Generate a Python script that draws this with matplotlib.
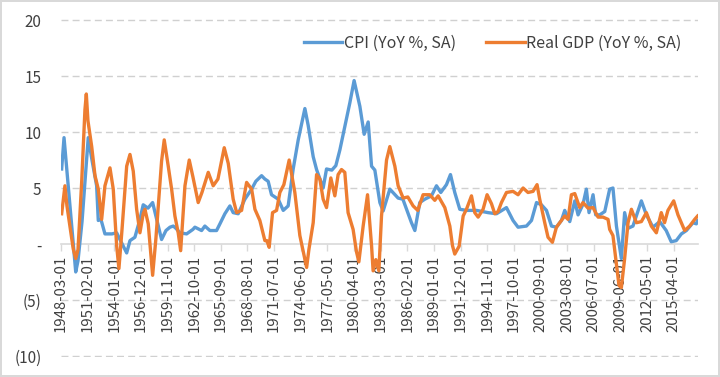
import matplotlib
matplotlib.use("Agg")
import matplotlib.pyplot as plt
from matplotlib.ticker import FuncFormatter

plt.rcParams['font.family'] = ['Noto Sans CJK KR', 'DejaVu Sans']

# CPI YoY % (decimal year, value)
cpi_t = [1948.24, 1948.5, 1949.78, 1950.03, 1950.47, 1951.15, 1951.56, 1952.07, 1952.25,
         1952.54, 1952.98, 1953.75, 1954.26, 1954.62, 1955.36, 1955.72, 1956.26, 1956.81,
         1957.17, 1957.69, 1958.2, 1958.56, 1959.18, 1959.66, 1960.1, 1960.46, 1960.75,
         1961.19, 1961.92, 1962.61, 1962.83, 1963.56, 1963.92, 1964.47, 1965.2, 1965.57,
         1966.11, 1966.66, 1967.02, 1967.57, 1968.3, 1969.04, 1969.5, 1970.13, 1970.49,
         1970.85, 1971.22, 1971.95, 1972.5, 1973.04, 1973.59, 1974.14, 1974.87, 1975.23,
         1975.78, 1976.15, 1976.87, 1977.24, 1977.82, 1978.26, 1978.7, 1979.25, 1979.79,
         1980.26, 1980.89, 1981.36, 1981.8, 1982.17, 1982.53, 1983.08, 1983.44, 1984.17,
         1985.08, 1985.6, 1986.0, 1986.54, 1986.91, 1987.45, 1988.0, 1988.73, 1989.28,
         1989.75, 1990.37, 1990.81, 1991.28, 1991.83, 1992.56, 1993.66, 1994.93, 1995.85,
         1996.94, 1997.66, 1998.21, 1999.13, 1999.68, 2000.23, 2000.77, 2001.32, 2001.87,
         2002.41, 2002.96, 2003.32, 2003.87, 2004.42, 2004.78, 2005.32, 2005.69, 2005.98,
         2006.42, 2006.71, 2007.15, 2007.7, 2008.24, 2008.6, 2008.98, 2009.52, 2009.88,
         2010.25, 2010.79, 2011.71, 2012.26, 2012.98, 2013.72, 2014.43, 2014.98, 2015.53,
         2016.09, 2016.64, 2017.36, 2017.73, 2017.87]
cpi_v = [6.7, 9.5, -2.5, -1.5, 2.0, 9.5, 7.5, 5.2, 2.1,
         2.2, 0.9, 0.9, 1.0, 0.4, -0.8, 0.3, 0.6, 2.2,
         3.5, 3.2, 3.7, 2.5, 0.4, 1.2, 1.5, 1.6, 1.4,
         1.0, 0.9, 1.3, 1.5, 1.2, 1.6, 1.2, 1.2, 1.8,
         2.7, 3.4, 2.8, 2.7, 4.0, 4.9, 5.6, 6.1, 5.8,
         5.6, 4.4, 4.0, 3.0, 3.4, 6.7, 9.3, 12.1, 10.6,
         7.8, 6.65, 5.0, 6.7, 6.6, 7.0, 8.4, 10.5, 12.6,
         14.6, 12.3, 9.8, 10.9, 6.95, 6.6, 3.7, 2.95, 4.9,
         4.1, 4.0, 3.1, 1.9, 1.2, 3.7, 4.0, 4.3, 5.2,
         4.6, 5.3, 6.2, 4.6, 3.1, 3.0, 3.0, 2.8, 2.7,
         3.25, 2.1, 1.5, 1.6, 2.1, 3.7, 3.5, 3.0, 1.6,
         1.5, 2.1, 3.0, 2.0, 3.85, 2.6, 3.55, 4.9, 2.8,
         4.4, 2.6, 2.6, 2.9, 4.9, 5.0, 1.6, -1.3, 2.8,
         1.4, 1.6, 3.85, 2.6, 1.5, 2.0, 1.2, 0.2, 0.3,
         0.9, 1.2, 1.9, 1.8, 2.1]

# Real GDP YoY % (decimal year, value)
gdp_t = [1948.24, 1948.6, 1948.82, 1949.51, 1949.78, 1950.03, 1950.43, 1950.79, 1950.94,
         1951.12, 1951.53, 1951.89, 1952.25, 1952.62, 1952.98, 1953.53, 1953.89, 1954.26,
         1954.51, 1954.84, 1955.36, 1955.72, 1956.08, 1956.45, 1956.81, 1957.17, 1957.36,
         1957.72, 1958.2, 1958.56, 1959.18, 1959.47, 1959.91, 1960.28, 1960.64, 1961.0,
         1961.27, 1961.74, 1962.21, 1962.61, 1963.19, 1963.6, 1964.29, 1964.83, 1965.35,
         1966.04, 1966.48, 1967.02, 1967.4, 1967.94, 1968.49, 1969.04, 1969.4, 1969.94,
         1970.49, 1970.71, 1970.96, 1971.33, 1971.77, 1972.13, 1972.57, 1973.15, 1973.77,
         1974.32, 1974.65, 1975.06, 1975.31, 1975.78, 1976.15, 1976.51, 1976.87, 1977.24,
         1977.71, 1978.15, 1978.51, 1978.88, 1979.24, 1979.6, 1980.15, 1980.52, 1980.78,
         1981.25, 1981.73, 1982.17, 1982.34, 1982.64, 1982.97, 1983.26, 1983.81, 1984.17,
         1984.72, 1985.08, 1985.63, 1986.14, 1986.72, 1987.23, 1987.81, 1988.33, 1988.54,
         1989.09, 1989.46, 1990.19, 1990.74, 1991.03, 1991.28, 1991.76, 1992.2, 1992.56,
         1993.11, 1993.47, 1993.84, 1994.38, 1994.82, 1995.3, 1995.66, 1996.02, 1996.39,
         1996.94, 1997.66, 1998.21, 1998.76, 1999.3, 1999.85, 2000.29, 2000.58, 2001.13,
         2001.49, 2001.97, 2002.41, 2002.96, 2003.32, 2003.68, 2004.05, 2004.42, 2004.96,
         2005.32, 2005.87, 2006.42, 2006.97, 2007.51, 2008.06, 2008.24, 2008.6, 2008.9,
         2009.26, 2009.52, 2009.88, 2010.25, 2010.62, 2011.17, 2011.71, 2012.26, 2012.8,
         2013.35, 2013.89, 2014.25, 2014.62, 2015.25, 2015.72, 2016.45, 2017.0, 2017.55,
         2017.87]
gdp_v = [2.7, 5.2, 3.4, -0.45, -1.3, -0.5, 5.5, 12.0, 13.4,
         11.0, 8.7, 6.1, 4.9, 2.2, 5.2, 6.8, 4.9, -0.15,
         -2.2, 1.2, 6.95, 8.0, 6.5, 3.1, 1.0, 2.7, 3.1,
         1.8, -2.8, 0.5, 7.4, 9.3, 6.95, 4.9, 2.5, 1.0,
         -0.6, 5.2, 7.5, 6.0, 3.7, 4.6, 6.4, 5.2, 5.8,
         8.6, 7.2, 4.0, 2.8, 3.0, 5.5, 4.9, 3.1, 2.1,
         0.3, 0.3, -0.3, 2.8, 3.0, 4.6, 5.3, 7.5, 4.6,
         0.75, -0.5, -2.1, -0.5, 1.9, 6.2, 5.8, 4.0, 3.25,
         5.9, 4.3, 6.2, 6.65, 6.4, 2.8, 1.3, -0.7, -1.6,
         1.6, 4.4, -0.15, -2.4, -1.4, -2.4, 2.5, 7.5, 8.7,
         6.95, 5.2, 4.1, 4.2, 3.4, 3.0, 4.4, 4.4, 4.4,
         3.9, 4.3, 3.25, 1.6, -0.15, -0.9, -0.2, 2.5, 3.1,
         4.3, 2.8, 2.4, 3.1, 4.4, 3.6, 2.7, 2.9, 3.7,
         4.6, 4.7, 4.4, 5.0, 4.6, 4.7, 5.3, 4.0, 1.9,
         0.6, 0.15, 1.5, 2.1, 2.5, 2.2, 4.4, 4.5, 3.25,
         3.7, 3.2, 3.25, 2.4, 2.4, 2.2, 1.3, 0.75, -1.3,
         -3.7, -3.9, -1.3, 1.9, 3.1, 1.9, 2.0, 2.8, 1.6,
         1.0, 2.8, 1.9, 3.0, 3.85, 2.6, 1.2, 1.6, 2.2,
         2.5]

tick_labels = ["1948-03-01", "1951-02-01", "1954-01-01", "1956-12-01", "1959-11-01",
               "1962-10-01", "1965-09-01", "1968-08-01", "1971-07-01", "1974-06-01",
               "1977-05-01", "1980-04-01", "1983-03-01", "1986-02-01", "1989-01-01",
               "1991-12-01", "1994-11-01", "1997-10-01", "2000-09-01", "2003-08-01",
               "2006-07-01", "2009-06-01", "2012-05-01", "2015-04-01"]
tick_pos = [int(s[:4]) + (int(s[5:7]) - 1) / 12 for s in tick_labels]

blue = "#5B9BD5"
orange = "#ED7D31"
grid = "#D0D0D0"
txt = "#404040"

fig = plt.figure(figsize=(7.2, 3.77), dpi=100)
fig.patch.set_edgecolor("#D9D9D9")
fig.patch.set_linewidth(1.5)
ax = fig.add_axes([0.0847, 0.053, 0.8843, 0.8966])

ax.plot(cpi_t, cpi_v, color=blue, lw=2.4, label="CPI (YoY %, SA)", solid_joinstyle="round", zorder=3)
ax.plot(gdp_t, gdp_v, color=orange, lw=2.4, label="Real GDP (YoY %, SA)", solid_joinstyle="round", zorder=4)

ax.set_xlim(tick_pos[0], 2017.876)
ax.set_ylim(-10.1, 20.1)
ax.set_yticks([-10, -5, 0, 5, 10, 15, 20])
ax.yaxis.set_major_formatter(FuncFormatter(
    lambda v, p: "-" if v == 0 else ("(%d)" % abs(v) if v < 0 else "%d" % v)))

# dashed horizontal gridlines, kept under the data lines
for yv in [-10, -5, 5, 10, 15, 20]:
    ax.axhline(yv, color=grid, lw=1.0, linestyle=(0, (5, 3)), zorder=1)

for s in ["top", "right", "left"]:
    ax.spines[s].set_visible(False)
ax.spines["bottom"].set_position(("data", 0))
ax.spines["bottom"].set_color("#D9D9D9")
ax.spines["bottom"].set_linewidth(1.2)

ax.set_xticks(tick_pos)
ax.set_xticklabels(tick_labels, rotation=90)
ax.tick_params(axis="x", direction="out", length=5, color="#D9D9D9", width=1,
               labelsize=10.8, labelcolor=txt, pad=3)
ax.tick_params(axis="y", length=0, labelsize=11, labelcolor=txt, pad=14)

ax.legend(loc="center right", bbox_to_anchor=(0.99, 0.928), ncol=2, frameon=False,
          fontsize=11.5, handlelength=2.4, columnspacing=1.9, handletextpad=0.1,
          labelcolor=txt, borderaxespad=0.2)

fig.savefig("out.png", dpi=100)
